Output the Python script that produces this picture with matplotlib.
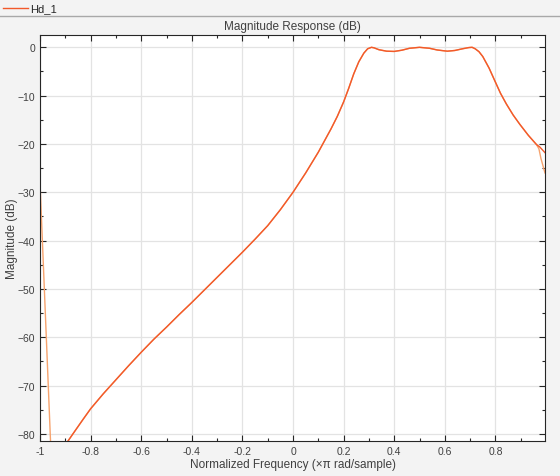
import matplotlib
matplotlib.use("Agg")
from matplotlib import pyplot as plt
from matplotlib.lines import Line2D
import numpy as np

# Hd_1 (quantized) magnitude response, normalized frequency vs dB
freq_q = [-0.895, -0.87, -0.85, -0.83, -0.8, -0.75, -0.7, -0.65, -0.6, -0.55, -0.5,
          -0.45, -0.4, -0.3, -0.2, -0.15, -0.1, -0.05, 0.0, 0.05, 0.1, 0.15, 0.175,
          0.2, 0.22, 0.24, 0.26, 0.28, 0.295, 0.31, 0.32, 0.34, 0.37, 0.40, 0.43,
          0.46, 0.50, 0.54, 0.57, 0.61, 0.64, 0.67, 0.695, 0.708, 0.72, 0.735,
          0.75, 0.775, 0.8, 0.82, 0.843, 0.87, 0.896, 0.93, 0.962]
mag_q = [-81.9, -80.0, -78.5, -77.0, -74.8, -71.7, -68.8, -65.9, -63.1, -60.4, -57.9,
         -55.3, -52.8, -47.6, -42.4, -39.7, -36.9, -33.6, -30.0, -26.0, -21.7, -16.9, -14.3,
         -11.3, -8.5, -5.5, -3.0, -1.2, -0.3, 0.0, -0.1, -0.5, -0.8, -0.85, -0.6,
         -0.2, 0.0, -0.2, -0.55, -0.8, -0.65, -0.3, -0.05, 0.0, -0.3, -0.9,
         -1.9, -4.3, -7.2, -9.5, -11.7, -14.0, -15.9, -18.2, -20.1]

# band edges where the two responses part
freq_q_end = [0.975, 0.996]
mag_q_end = [-20.6, -21.8]
freq_r_start = [-1.0, -0.958]
mag_r_start = [-27.9, -82.0]
freq_r_end = [0.972, 0.98, 0.996]
mag_r_end = [-21.0, -23.0, -26.0]

x_ticks = [-1, -0.8, -0.6, -0.4, -0.2, 0, 0.2, 0.4, 0.6, 0.8]
x_labels = ['-1', '-0.8', '-0.6', '-0.4', '-0.2', '0', '0.2', '0.4', '0.6', '0.8']
y_ticks = [-80, -70, -60, -50, -40, -30, -20, -10, 0]

dark = '#F2592A'
light = '#F6A36E'
txt = '#404040'

plt.rcParams['font.family'] = ['Liberation Sans', 'DejaVu Sans']
plt.rcParams['font.size'] = 7.5

fig = plt.figure(figsize=(5.6, 4.77), dpi=100, facecolor='#F3F3F3')
ax = fig.add_axes([40/560, 1-441.7/477, 505/560, 405.7/477])
ax.set_facecolor('white')

# reference response (light), same as Hd_1 except at the edges
ax.plot(freq_r_start, mag_r_start, color=light, lw=1.0)
ax.plot(freq_q + freq_r_end, mag_q + mag_r_end, color=light, lw=1.0)
ax.plot(freq_q + freq_q_end, mag_q + mag_q_end, color=dark, lw=1.0)

ax.set_xlim(-1, 0.996)
ax.set_ylim(-81.4, 2.55)
ax.set_xticks(x_ticks)
ax.set_xticklabels(x_labels)
ax.set_yticks(y_ticks)
ax.set_xticks(np.arange(-0.9, 1.0, 0.2), minor=True)
ax.set_yticks(np.arange(-75, 1, 10), minor=True)
ax.grid(True, which='major', color='#E3E3E3', lw=0.9)
ax.set_axisbelow(True)
ax.tick_params(which='both', direction='in', top=True, right=True,
               colors='#262626', labelcolor=txt, labelsize=7.5)
ax.tick_params(which='major', length=4, width=0.8)
ax.tick_params(which='minor', length=2.5, width=0.8)
for s in ax.spines.values():
    s.set_color('#262626')
    s.set_linewidth(0.8)

ax.set_title('Magnitude Response (dB)', color=txt, fontsize=8.5, pad=4)
ax.set_xlabel('Normalized Frequency (\u00d7\u03c0 rad/sample)', color=txt, fontsize=8.5, labelpad=2)
ax.set_ylabel('Magnitude (dB)', color=txt, fontsize=8.5)
ax.yaxis.set_label_coords(-22/505, 0.5)

# legend strip on top
fig.add_artist(Line2D([3/560, 28/560], [1-9/477, 1-9/477], color=dark, lw=1.0))
fig.text(30/560, 1-9/477, 'Hd_1', color='#262626', fontsize=8, va='center')
fig.add_artist(Line2D([0, 1], [1-17/477, 1-17/477], color='#A8A8A8', lw=1.0))

fig.savefig('out.png', dpi=100, facecolor=fig.get_facecolor())
